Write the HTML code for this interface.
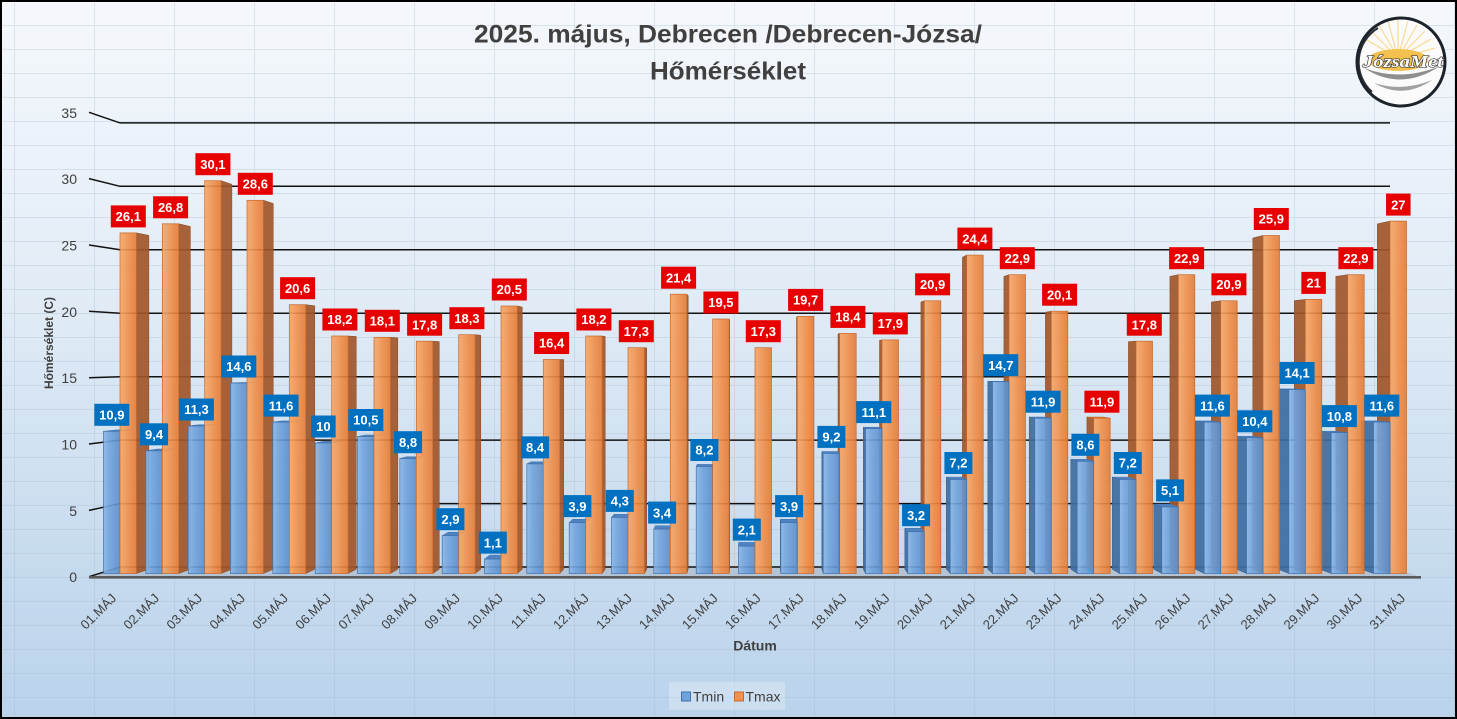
<!DOCTYPE html>
<html><head><meta charset="utf-8"><style>
html,body{margin:0;padding:0;background:#fff}
svg{display:block}
text{font-family:"Liberation Sans",sans-serif}
.bf{fill:url(#gB);stroke:#3F71AC;stroke-width:.7;fill-opacity:.9}
.bs{fill:#3E6C9F;stroke:#345d8a;stroke-width:.5;fill-opacity:.92}
.bt{fill:#4F82C0;stroke:#3F71AC;stroke-width:.5}
.of{fill:url(#gO);stroke:#C8682B;stroke-width:.7;fill-opacity:.9}
.os{fill:#A0562A;stroke:#8a4a22;stroke-width:.5;fill-opacity:.92}
.ot{fill:#D9773A;stroke:#C8682B;stroke-width:.5}
.lb rect{fill:#0070C0}
.lo rect{fill:#E60000}
.lb text,.lo text{fill:#fff;font-weight:bold;font-size:13px;text-anchor:middle}
.yl{font-size:14px;fill:#404040;text-anchor:end}
.xl text{font-size:13px;fill:#404040;text-anchor:end}
.gl{fill:none;stroke:#111;stroke-width:1.5}
</style></head><body>
<svg width="1457" height="719" viewBox="0 0 1457 719" xmlns="http://www.w3.org/2000/svg">
<defs>
<linearGradient id="bg" x1="0" y1="0" x2="0" y2="1">
<stop offset="0" stop-color="#F5F8FC"/><stop offset="0.4" stop-color="#E2ECF6"/><stop offset="0.75" stop-color="#C9DCEF"/><stop offset="1" stop-color="#BAD3EB"/>
</linearGradient>
<linearGradient id="gO" x1="0" y1="0" x2="1" y2="0">
<stop offset="0" stop-color="#F6A565"/><stop offset="0.3" stop-color="#F29A57"/><stop offset="0.6" stop-color="#EE8A45"/><stop offset="1" stop-color="#E27C36"/>
</linearGradient>
<linearGradient id="gB" x1="0" y1="0" x2="1" y2="0">
<stop offset="0" stop-color="#8AB6E6"/><stop offset="0.35" stop-color="#72A4DD"/><stop offset="1" stop-color="#5A8FCC"/>
</linearGradient>
<pattern id="grid" x="14" y="1" width="80" height="24" patternUnits="userSpaceOnUse">
<path d="M0.5,0 V24 M0,0.5 H80" stroke="#9fb6cc" stroke-opacity="0.3" stroke-width="1" fill="none"/>
</pattern>
<clipPath id="lc"><circle cx="1401" cy="62" r="43"/></clipPath>
</defs>
<rect x="0" y="0" width="1457" height="719" fill="url(#bg)"/>
<rect x="0" y="0" width="1457" height="719" fill="url(#grid)"/>

<!-- Title -->
<text x="474" y="42.5" font-size="25" font-weight="bold" fill="#404040" textLength="508" lengthAdjust="spacingAndGlyphs">2025. május, Debrecen /Debrecen-Józsa/</text>
<text x="650" y="79.5" font-size="25" font-weight="bold" fill="#404040" textLength="156" lengthAdjust="spacingAndGlyphs">Hőmérséklet</text>

<!-- Logo -->
<g>
<circle cx="1401" cy="62" r="44" fill="#fbfbfb"/>
<g clip-path="url(#lc)" stroke="#F7D37E" stroke-width="1.3" stroke-opacity="0.75">
<line x1="1398" y1="58" x2="1365.1" y2="39"/><line x1="1398" y1="58" x2="1371.1" y2="31.1"/>
<line x1="1398" y1="58" x2="1379" y2="25.1"/><line x1="1398" y1="58" x2="1388.2" y2="21.3"/>
<line x1="1398" y1="58" x2="1398" y2="20"/><line x1="1398" y1="58" x2="1407.8" y2="21.3"/>
<line x1="1398" y1="58" x2="1417" y2="25.1"/><line x1="1398" y1="58" x2="1424.9" y2="31.1"/>
<line x1="1398" y1="58" x2="1430.9" y2="39"/><line x1="1398" y1="58" x2="1434.7" y2="48.2"/>
</g>
<ellipse cx="1398" cy="60" rx="30" ry="11" fill="#F4C04E"/>
<path d="M1364,68 Q1401,92 1440,66 Q1401,82 1364,68 Z" fill="#8e8e8e"/>
<path d="M1374,83 Q1403,100 1432,80 Q1403,92 1374,83 Z" fill="#a0a0a0"/>
<path d="M1372,92 A40,40 0 0 1 1378,28" fill="none" stroke="#2a2f36" stroke-width="2"/>
<circle cx="1401" cy="62" r="44" fill="none" stroke="#1c232b" stroke-width="3"/>
<text x="1363" y="67" style="font-family:'Liberation Serif',serif;font-style:italic;font-weight:bold;font-size:17px" fill="#fff" stroke="#3a3a3a" stroke-width="1.2" paint-order="stroke" textLength="80" lengthAdjust="spacingAndGlyphs">JózsaMet</text>
</g>

<!-- Y axis labels -->
<text class="yl" x="77" y="117.8">35</text>
<text class="yl" x="77" y="184.1">30</text>
<text class="yl" x="77" y="250.5">25</text>
<text class="yl" x="77" y="316.8">20</text>
<text class="yl" x="77" y="383.2">15</text>
<text class="yl" x="77" y="449.5">10</text>
<text class="yl" x="77" y="515.9">5</text>
<text class="yl" x="77" y="582.2">0</text>

<!-- Floor -->
<polygon points="89,577 1421,577 1390,567 120,567" fill="#AEBCCB" fill-opacity="0.75"/>

<!-- Gridlines -->
<polyline class="gl" points="89,112.3 120,122.9 1390,122.9"/>
<polyline class="gl" points="89,178.6 120,186.3 1390,186.3"/>
<polyline class="gl" points="89,245 120,249.8 1390,249.8"/>
<polyline class="gl" points="89,311.3 120,313.2 1390,313.2"/>
<polyline class="gl" points="89,377.7 120,376.7 1390,376.7"/>
<polyline class="gl" points="89,444 120,440.1 1390,440.1"/>
<polyline class="gl" points="89,510.4 120,503.6 1390,503.6"/>
<polyline class="gl" points="89,576.7 120,567 1390,567"/>
<line x1="89" y1="577.3" x2="1421" y2="577.3" stroke="#5a5a5a" stroke-width="2.6"/>

<!-- Bars: left half -->
<polygon class="bt" points="103.5,431.3 120,431.3 132.7,429.9 116.2,429.9"/>
<rect class="bf" x="103.5" y="431.3" width="16.5" height="142.2"/>
<polygon class="os" points="136.5,232.9 148.9,235.4 148.9,569.2 136.5,573.5"/>
<rect class="of" x="120" y="232.9" width="16.5" height="340.6"/>

<polygon class="bt" points="145.8,450.8 162.3,450.8 174.2,449 157.7,449"/>
<rect class="bf" x="145.8" y="450.8" width="16.5" height="122.7"/>
<polygon class="os" points="178.8,223.8 190.4,226.5 190.4,569.2 178.8,573.5"/>
<rect class="of" x="162.3" y="223.8" width="16.5" height="349.7"/>

<polygon class="bt" points="188.2,426 204.7,426 215.7,424.7 199.2,424.7"/>
<rect class="bf" x="188.2" y="426" width="16.5" height="147.5"/>
<polygon class="os" points="221.2,180.7 231.9,184.3 231.9,569.2 221.2,573.5"/>
<rect class="of" x="204.7" y="180.7" width="16.5" height="392.8"/>

<polygon class="bt" points="230.5,383 247,383 257.2,382.5 240.7,382.5"/>
<rect class="bf" x="230.5" y="383" width="16.5" height="190.5"/>
<polygon class="os" points="263.5,200.3 273.3,203.5 273.3,569.2 263.5,573.5"/>
<rect class="of" x="247" y="200.3" width="16.5" height="373.2"/>

<polygon class="bt" points="272.8,422.1 289.3,422.1 298.6,420.9 282.1,420.9"/>
<rect class="bf" x="272.8" y="422.1" width="16.5" height="151.4"/>
<polygon class="os" points="305.8,304.7 314.8,305.8 314.8,569.2 305.8,573.5"/>
<rect class="of" x="289.3" y="304.7" width="16.5" height="268.8"/>

<polygon class="bt" points="315.2,443 331.7,443 340.2,441.3 323.7,441.3"/>
<rect class="bf" x="315.2" y="443" width="16.5" height="130.5"/>
<polygon class="os" points="348.2,336 356.3,336.5 356.3,569.2 348.2,573.5"/>
<rect class="of" x="331.7" y="336" width="16.5" height="237.5"/>

<polygon class="bt" points="357.5,436.5 374,436.5 381.6,435 365.1,435"/>
<rect class="bf" x="357.5" y="436.5" width="16.5" height="137"/>
<polygon class="os" points="390.5,337.3 397.8,337.8 397.8,569.2 390.5,573.5"/>
<rect class="of" x="374" y="337.3" width="16.5" height="236.2"/>

<polygon class="bt" points="399.8,458.7 416.3,458.7 423.1,456.7 406.6,456.7"/>
<rect class="bf" x="399.8" y="458.7" width="16.5" height="114.8"/>
<polygon class="os" points="432.8,341.2 439.3,341.6 439.3,569.2 432.8,573.5"/>
<rect class="of" x="416.3" y="341.2" width="16.5" height="232.3"/>

<polygon class="bt" points="442.2,535.7 458.7,535.7 464.6,532.2 448.1,532.2"/>
<rect class="bf" x="442.2" y="535.7" width="16.5" height="37.8"/>
<polygon class="os" points="475.2,334.7 480.8,335.2 480.8,569.2 475.2,573.5"/>
<rect class="of" x="458.7" y="334.7" width="16.5" height="238.8"/>

<polygon class="bt" points="484.5,559.1 501,559.1 506.1,555.1 489.6,555.1"/>
<rect class="bf" x="484.5" y="559.1" width="16.5" height="14.4"/>
<polygon class="os" points="517.5,306 522.3,307.1 522.3,569.2 517.5,573.5"/>
<rect class="of" x="501" y="306" width="16.5" height="267.5"/>

<polygon class="bt" points="526.8,463.9 543.3,463.9 547.5,461.8 531,461.8"/>
<rect class="bf" x="526.8" y="463.9" width="16.5" height="109.6"/>
<polygon class="os" points="559.8,359.5 563.7,359.5 563.7,569.2 559.8,573.5"/>
<rect class="of" x="543.3" y="359.5" width="16.5" height="214"/>

<polygon class="bt" points="569.2,522.6 585.7,522.6 589.1,519.3 572.6,519.3"/>
<rect class="bf" x="569.2" y="522.6" width="16.5" height="50.9"/>
<polygon class="os" points="602.2,336 605.2,336.5 605.2,569.2 602.2,573.5"/>
<rect class="of" x="585.7" y="336" width="16.5" height="237.5"/>

<polygon class="bt" points="611.5,517.4 628,517.4 630.5,514.3 614,514.3"/>
<rect class="bf" x="611.5" y="517.4" width="16.5" height="56.1"/>
<polygon class="os" points="644.5,347.7 646.7,347.9 646.7,569.2 644.5,573.5"/>
<rect class="of" x="628" y="347.7" width="16.5" height="225.8"/>

<polygon class="bt" points="653.8,529.1 670.3,529.1 672,525.7 655.5,525.7"/>
<rect class="bf" x="653.8" y="529.1" width="16.5" height="44.4"/>
<polygon class="os" points="686.8,294.2 688.2,295.5 688.2,569.2 686.8,573.5"/>
<rect class="of" x="670.3" y="294.2" width="16.5" height="279.3"/>

<polygon class="bt" points="696.2,466.5 712.7,466.5 713.5,464.4 697,464.4"/>
<rect class="bf" x="696.2" y="466.5" width="16.5" height="107"/>
<polygon class="os" points="729.2,319 729.7,319.8 729.7,569.2 729.2,573.5"/>
<rect class="of" x="712.7" y="319" width="16.5" height="254.5"/>

<!-- Bars: right half (31 -> 17) -->
<polygon class="os" points="1390,221.1 1377.3,223.9 1377.3,569.2 1390,573.5"/>
<rect class="of" x="1390" y="221.1" width="16.5" height="352.4"/>
<polygon class="bs" points="1373.5,422.1 1361.1,420.9 1361.1,569.2 1373.5,573.5"/>
<polygon class="bt" points="1373.5,422.1 1390,422.1 1377.3,420.9 1361.1,420.9"/>
<rect class="bf" x="1373.5" y="422.1" width="16.5" height="151.4"/>

<polygon class="os" points="1347.7,274.7 1335.8,276.4 1335.8,569.2 1347.7,573.5"/>
<rect class="of" x="1347.7" y="274.7" width="16.5" height="298.8"/>
<polygon class="bs" points="1331.2,432.6 1319.7,431.2 1319.7,569.2 1331.2,573.5"/>
<polygon class="bt" points="1331.2,432.6 1347.7,432.6 1335.8,431.2 1319.7,431.2"/>
<rect class="bf" x="1331.2" y="432.6" width="16.5" height="140.9"/>

<polygon class="os" points="1305.3,299.4 1294.3,300.6 1294.3,569.2 1305.3,573.5"/>
<rect class="of" x="1305.3" y="299.4" width="16.5" height="274.1"/>
<polygon class="bs" points="1288.8,389.5 1278.2,388.9 1278.2,569.2 1288.8,573.5"/>
<polygon class="bt" points="1288.8,389.5 1305.3,389.5 1294.3,388.9 1278.2,388.9"/>
<rect class="bf" x="1288.8" y="389.5" width="16.5" height="184"/>

<polygon class="os" points="1263,235.5 1252.8,238 1252.8,569.2 1263,573.5"/>
<rect class="of" x="1263" y="235.5" width="16.5" height="338"/>
<polygon class="bs" points="1246.5,437.8 1236.7,436.2 1236.7,569.2 1246.5,573.5"/>
<polygon class="bt" points="1246.5,437.8 1263,437.8 1252.8,436.2 1236.7,436.2"/>
<rect class="bf" x="1246.5" y="437.8" width="16.5" height="135.7"/>

<polygon class="os" points="1220.7,300.8 1211.4,302 1211.4,569.2 1220.7,573.5"/>
<rect class="of" x="1220.7" y="300.8" width="16.5" height="272.7"/>
<polygon class="bs" points="1204.2,422.1 1195.2,420.9 1195.2,569.2 1204.2,573.5"/>
<polygon class="bt" points="1204.2,422.1 1220.7,422.1 1211.4,420.9 1195.2,420.9"/>
<rect class="bf" x="1204.2" y="422.1" width="16.5" height="151.4"/>

<polygon class="os" points="1178.3,274.7 1169.9,276.4 1169.9,569.2 1178.3,573.5"/>
<rect class="of" x="1178.3" y="274.7" width="16.5" height="298.8"/>
<polygon class="bs" points="1161.8,506.9 1153.7,504 1153.7,569.2 1161.8,573.5"/>
<polygon class="bt" points="1161.8,506.9 1178.3,506.9 1169.9,504 1153.7,504"/>
<rect class="bf" x="1161.8" y="506.9" width="16.5" height="66.6"/>

<polygon class="os" points="1136,341.2 1128.4,341.6 1128.4,569.2 1136,573.5"/>
<rect class="of" x="1136" y="341.2" width="16.5" height="232.3"/>
<polygon class="bs" points="1119.5,479.5 1112.2,477.1 1112.2,569.2 1119.5,573.5"/>
<polygon class="bt" points="1119.5,479.5 1136,479.5 1128.4,477.1 1112.2,477.1"/>
<rect class="bf" x="1119.5" y="479.5" width="16.5" height="94"/>

<polygon class="os" points="1093.7,418.2 1086.9,417 1086.9,569.2 1093.7,573.5"/>
<polygon class="ot" points="1093.7,418.2 1110.2,418.2 1103.4,417 1086.9,417"/>
<rect class="of" x="1093.7" y="418.2" width="16.5" height="155.3"/>
<polygon class="bs" points="1077.2,461.3 1070.7,459.3 1070.7,569.2 1077.2,573.5"/>
<polygon class="bt" points="1077.2,461.3 1093.7,461.3 1086.9,459.3 1070.7,459.3"/>
<rect class="bf" x="1077.2" y="461.3" width="16.5" height="112.2"/>

<polygon class="os" points="1051.3,311.2 1045.4,312.2 1045.4,569.2 1051.3,573.5"/>
<rect class="of" x="1051.3" y="311.2" width="16.5" height="262.3"/>
<polygon class="bs" points="1034.8,418.2 1029.2,417 1029.2,569.2 1034.8,573.5"/>
<polygon class="bt" points="1034.8,418.2 1051.3,418.2 1045.4,417 1029.2,417"/>
<rect class="bf" x="1034.8" y="418.2" width="16.5" height="155.3"/>

<polygon class="os" points="1009,274.7 1003.9,276.4 1003.9,569.2 1009,573.5"/>
<rect class="of" x="1009" y="274.7" width="16.5" height="298.8"/>
<polygon class="bs" points="992.5,381.7 987.8,381.3 987.8,569.2 992.5,573.5"/>
<polygon class="bt" points="992.5,381.7 1009,381.7 1003.9,381.3 987.8,381.3"/>
<rect class="bf" x="992.5" y="381.7" width="16.5" height="191.8"/>

<polygon class="os" points="966.7,255.1 962.4,257.2 962.4,569.2 966.7,573.5"/>
<rect class="of" x="966.7" y="255.1" width="16.5" height="318.4"/>
<polygon class="bs" points="950.2,479.5 946.3,477.1 946.3,569.2 950.2,573.5"/>
<polygon class="bt" points="950.2,479.5 966.7,479.5 962.4,477.1 946.3,477.1"/>
<rect class="bf" x="950.2" y="479.5" width="16.5" height="94"/>

<polygon class="os" points="924.3,300.8 920.9,302 920.9,569.2 924.3,573.5"/>
<rect class="of" x="924.3" y="300.8" width="16.5" height="272.7"/>
<polygon class="bs" points="907.8,531.7 904.8,528.3 904.8,569.2 907.8,573.5"/>
<polygon class="bt" points="907.8,531.7 924.3,531.7 920.9,528.3 904.8,528.3"/>
<rect class="bf" x="907.8" y="531.7" width="16.5" height="41.8"/>

<polygon class="os" points="882,339.9 879.5,340.3 879.5,569.2 882,573.5"/>
<rect class="of" x="882" y="339.9" width="16.5" height="233.6"/>
<polygon class="bs" points="865.5,428.6 863.3,427.2 863.3,569.2 865.5,573.5"/>
<polygon class="bt" points="865.5,428.6 882,428.6 879.5,427.2 863.3,427.2"/>
<rect class="bf" x="865.5" y="428.6" width="16.5" height="144.9"/>

<polygon class="os" points="839.7,333.4 838,333.9 838,569.2 839.7,573.5"/>
<rect class="of" x="839.7" y="333.4" width="16.5" height="240.1"/>
<polygon class="bs" points="823.2,453.4 821.8,451.5 821.8,569.2 823.2,573.5"/>
<polygon class="bt" points="823.2,453.4 839.7,453.4 838,451.5 821.8,451.5"/>
<rect class="bf" x="823.2" y="453.4" width="16.5" height="120.1"/>

<polygon class="os" points="797.3,316.4 796.5,317.3 796.5,569.2 797.3,573.5"/>
<rect class="of" x="797.3" y="316.4" width="16.5" height="257.1"/>
<polygon class="bs" points="780.8,522.6 780.3,519.3 780.3,569.2 780.8,573.5"/>
<polygon class="bt" points="780.8,522.6 797.3,522.6 796.5,519.3 780.3,519.3"/>
<rect class="bf" x="780.8" y="522.6" width="16.5" height="50.9"/>

<!-- middle: day 16 -->
<polygon class="bt" points="738.5,546.1 755,546.1 755,542.4 738.5,542.4"/>
<rect class="bf" x="738.5" y="546.1" width="16.5" height="27.4"/>
<rect class="of" x="755" y="347.7" width="16.5" height="225.8"/>

<!-- Tmin labels -->
<g class="lb">
<rect x="94.3" y="403.8" width="35" height="22"/><text x="111.8" y="419.5">10,9</text>
<rect x="140.1" y="423.3" width="28" height="22"/><text x="154.1" y="439">9,4</text>
<rect x="178.9" y="398.5" width="35" height="22"/><text x="196.4" y="414.2">11,3</text>
<rect x="221.3" y="355.5" width="35" height="22"/><text x="238.8" y="371.2">14,6</text>
<rect x="263.6" y="394.6" width="35" height="22"/><text x="281.1" y="410.3">11,6</text>
<rect x="311.15" y="415.5" width="24.5" height="22"/><text x="323.4" y="431.2">10</text>
<rect x="348.3" y="409" width="35" height="22"/><text x="365.8" y="424.7">10,5</text>
<rect x="394.1" y="431.2" width="28" height="22"/><text x="408.1" y="446.9">8,8</text>
<rect x="436.4" y="508.2" width="28" height="22"/><text x="450.4" y="523.9">2,9</text>
<rect x="478.8" y="531.6" width="28" height="22"/><text x="492.8" y="547.3">1,1</text>
<rect x="521.1" y="436.4" width="28" height="22"/><text x="535.1" y="452.1">8,4</text>
<rect x="563.4" y="495.1" width="28" height="22"/><text x="577.4" y="510.8">3,9</text>
<rect x="605.8" y="489.9" width="28" height="22"/><text x="619.8" y="505.6">4,3</text>
<rect x="648.1" y="501.6" width="28" height="22"/><text x="662.1" y="517.3">3,4</text>
<rect x="690.4" y="439" width="28" height="22"/><text x="704.4" y="454.7">8,2</text>
<rect x="732.8" y="518.6" width="28" height="22"/><text x="746.8" y="534.3">2,1</text>
<rect x="775.1" y="495.1" width="28" height="22"/><text x="789.1" y="510.8">3,9</text>
<rect x="817.4" y="425.9" width="28" height="22"/><text x="831.4" y="441.6">9,2</text>
<rect x="856.3" y="401.1" width="35" height="22"/><text x="873.8" y="416.8">11,1</text>
<rect x="902.1" y="504.2" width="28" height="22"/><text x="916.1" y="519.9">3,2</text>
<rect x="944.4" y="452" width="28" height="22"/><text x="958.4" y="467.7">7,2</text>
<rect x="983.3" y="354.2" width="35" height="22"/><text x="1000.8" y="369.9">14,7</text>
<rect x="1025.6" y="390.7" width="35" height="22"/><text x="1043.1" y="406.4">11,9</text>
<rect x="1071.4" y="433.8" width="28" height="22"/><text x="1085.4" y="449.5">8,6</text>
<rect x="1113.8" y="452" width="28" height="22"/><text x="1127.8" y="467.7">7,2</text>
<rect x="1156.1" y="479.4" width="28" height="22"/><text x="1170.1" y="495.1">5,1</text>
<rect x="1194.9" y="394.6" width="35" height="22"/><text x="1212.4" y="410.3">11,6</text>
<rect x="1237.3" y="410.3" width="35" height="22"/><text x="1254.8" y="426">10,4</text>
<rect x="1279.6" y="362" width="35" height="22"/><text x="1297.1" y="377.7">14,1</text>
<rect x="1321.9" y="405.1" width="35" height="22"/><text x="1339.4" y="420.8">10,8</text>
<rect x="1364.3" y="394.6" width="35" height="22"/><text x="1381.8" y="410.3">11,6</text>
</g>

<!-- Tmax labels -->
<g class="lo">
<rect x="110.8" y="205.4" width="35" height="22"/><text x="128.3" y="221.1">26,1</text>
<rect x="153.1" y="196.3" width="35" height="22"/><text x="170.6" y="212">26,8</text>
<rect x="195.4" y="153.2" width="35" height="22"/><text x="212.9" y="168.9">30,1</text>
<rect x="237.8" y="172.8" width="35" height="22"/><text x="255.3" y="188.5">28,6</text>
<rect x="280.1" y="277.2" width="35" height="22"/><text x="297.6" y="292.9">20,6</text>
<rect x="322.4" y="308.5" width="35" height="22"/><text x="339.9" y="324.2">18,2</text>
<rect x="364.8" y="309.8" width="35" height="22"/><text x="382.3" y="325.5">18,1</text>
<rect x="407.1" y="313.7" width="35" height="22"/><text x="424.6" y="329.4">17,8</text>
<rect x="449.4" y="307.2" width="35" height="22"/><text x="466.9" y="322.9">18,3</text>
<rect x="491.8" y="278.5" width="35" height="22"/><text x="509.3" y="294.2">20,5</text>
<rect x="534.1" y="332" width="35" height="22"/><text x="551.6" y="347.7">16,4</text>
<rect x="576.4" y="308.5" width="35" height="22"/><text x="593.9" y="324.2">18,2</text>
<rect x="618.8" y="320.2" width="35" height="22"/><text x="636.3" y="335.9">17,3</text>
<rect x="661.1" y="266.7" width="35" height="22"/><text x="678.6" y="282.4">21,4</text>
<rect x="703.4" y="291.5" width="35" height="22"/><text x="720.9" y="307.2">19,5</text>
<rect x="745.8" y="320.2" width="35" height="22"/><text x="763.3" y="335.9">17,3</text>
<rect x="788.1" y="288.9" width="35" height="22"/><text x="805.6" y="304.6">19,7</text>
<rect x="830.4" y="305.9" width="35" height="22"/><text x="847.9" y="321.6">18,4</text>
<rect x="872.8" y="312.4" width="35" height="22"/><text x="890.3" y="328.1">17,9</text>
<rect x="915.1" y="273.3" width="35" height="22"/><text x="932.6" y="289">20,9</text>
<rect x="957.4" y="227.6" width="35" height="22"/><text x="974.9" y="243.3">24,4</text>
<rect x="999.8" y="247.2" width="35" height="22"/><text x="1017.3" y="262.9">22,9</text>
<rect x="1042.1" y="283.7" width="35" height="22"/><text x="1059.6" y="299.4">20,1</text>
<rect x="1084.4" y="390.7" width="35" height="22"/><text x="1101.9" y="406.4">11,9</text>
<rect x="1126.8" y="313.7" width="35" height="22"/><text x="1144.3" y="329.4">17,8</text>
<rect x="1169.1" y="247.2" width="35" height="22"/><text x="1186.6" y="262.9">22,9</text>
<rect x="1211.4" y="273.3" width="35" height="22"/><text x="1228.9" y="289">20,9</text>
<rect x="1253.8" y="208" width="35" height="22"/><text x="1271.3" y="223.7">25,9</text>
<rect x="1301.35" y="271.9" width="24.5" height="22"/><text x="1313.6" y="287.6">21</text>
<rect x="1338.4" y="247.2" width="35" height="22"/><text x="1355.9" y="262.9">22,9</text>
<rect x="1386.05" y="193.6" width="24.5" height="22"/><text x="1398.3" y="209.3">27</text>
</g>

<!-- X axis labels -->
<g class="xl">
<text transform="translate(117.1,599) rotate(-45)">01.MÁJ</text>
<text transform="translate(160,599) rotate(-45)">02.MÁJ</text>
<text transform="translate(203,599) rotate(-45)">03.MÁJ</text>
<text transform="translate(246,599) rotate(-45)">04.MÁJ</text>
<text transform="translate(288.9,599) rotate(-45)">05.MÁJ</text>
<text transform="translate(331.9,599) rotate(-45)">06.MÁJ</text>
<text transform="translate(374.9,599) rotate(-45)">07.MÁJ</text>
<text transform="translate(417.8,599) rotate(-45)">08.MÁJ</text>
<text transform="translate(460.8,599) rotate(-45)">09.MÁJ</text>
<text transform="translate(503.8,599) rotate(-45)">10.MÁJ</text>
<text transform="translate(546.7,599) rotate(-45)">11.MÁJ</text>
<text transform="translate(589.7,599) rotate(-45)">12.MÁJ</text>
<text transform="translate(632.7,599) rotate(-45)">13.MÁJ</text>
<text transform="translate(675.6,599) rotate(-45)">14.MÁJ</text>
<text transform="translate(718.6,599) rotate(-45)">15.MÁJ</text>
<text transform="translate(761.6,599) rotate(-45)">16.MÁJ</text>
<text transform="translate(804.6,599) rotate(-45)">17.MÁJ</text>
<text transform="translate(847.6,599) rotate(-45)">18.MÁJ</text>
<text transform="translate(890.5,599) rotate(-45)">19.MÁJ</text>
<text transform="translate(933.5,599) rotate(-45)">20.MÁJ</text>
<text transform="translate(976.4,599) rotate(-45)">21.MÁJ</text>
<text transform="translate(1019.4,599) rotate(-45)">22.MÁJ</text>
<text transform="translate(1062.4,599) rotate(-45)">23.MÁJ</text>
<text transform="translate(1105.4,599) rotate(-45)">24.MÁJ</text>
<text transform="translate(1148.3,599) rotate(-45)">25.MÁJ</text>
<text transform="translate(1191.3,599) rotate(-45)">26.MÁJ</text>
<text transform="translate(1234.3,599) rotate(-45)">27.MÁJ</text>
<text transform="translate(1277.2,599) rotate(-45)">28.MÁJ</text>
<text transform="translate(1320.2,599) rotate(-45)">29.MÁJ</text>
<text transform="translate(1363.2,599) rotate(-45)">30.MÁJ</text>
<text transform="translate(1406.1,599) rotate(-45)">31.MÁJ</text>
</g>

<!-- Axis titles -->
<text transform="translate(53,343) rotate(-90)" text-anchor="middle" font-size="12" font-weight="bold" fill="#404040">Hőmérséklet (C)</text>
<text x="755" y="650.7" text-anchor="middle" font-size="14" font-weight="bold" fill="#404040">Dátum</text>

<!-- Legend -->
<rect x="669" y="682" width="116" height="28" fill="#ffffff" fill-opacity="0.25"/>
<rect x="681.5" y="692" width="9" height="9" fill="#6FA3DC" stroke="#3F71AC" stroke-width="1"/>
<text x="693" y="701.5" font-size="14" fill="#404040">Tmin</text>
<rect x="734.5" y="692" width="9" height="9" fill="#F0914F" stroke="#C8682B" stroke-width="1"/>
<text x="745.5" y="701.5" font-size="14" fill="#404040">Tmax</text>

<!-- Border -->
<rect x="1" y="1" width="1455" height="717" fill="none" stroke="#000" stroke-width="2"/>
</svg>
</body></html>
